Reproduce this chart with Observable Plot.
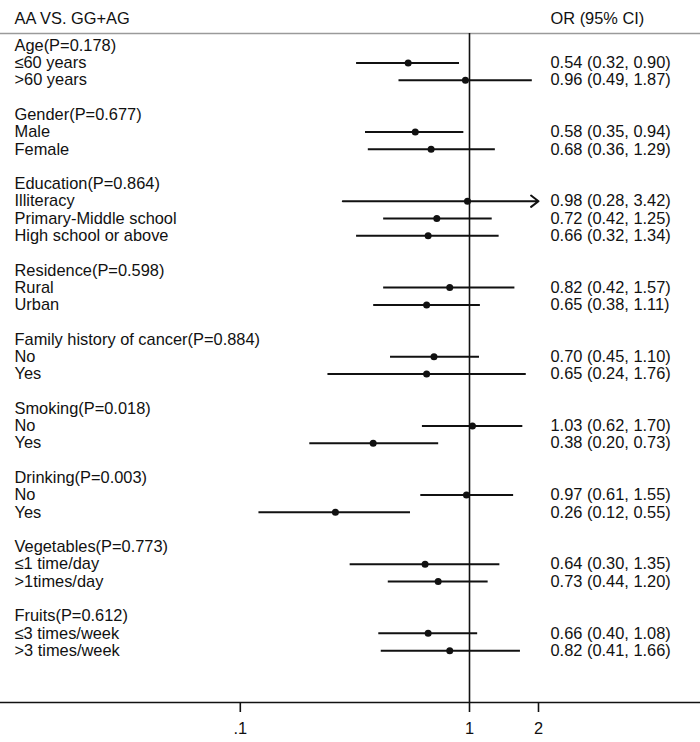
<!DOCTYPE html>
<html>
<head>
<meta charset="utf-8">
<script src="https://cdn.jsdelivr.net/npm/d3@7"></script>
<script src="https://cdn.jsdelivr.net/npm/@observablehq/plot@0.6"></script>
<style>
  html, body { margin: 0; padding: 0; background: #fff; }
  #chart svg { display: block; }
</style>
</head>
<body>
<div id="chart"></div>
<script>
// ---- data ----
const headerLeft = "AA VS. GG+AG";
const headerRight = "OR (95% CI)";
const groupNames = [
  "Age(P=0.178)", "Gender(P=0.677)", "Education(P=0.864)", "Residence(P=0.598)",
  "Family history of cancer(P=0.884)", "Smoking(P=0.018)", "Drinking(P=0.003)",
  "Vegetables(P=0.773)", "Fruits(P=0.612)"
];
const subgroupLabels = [
  ["≤60 years", ">60 years"],
  ["Male", "Female"],
  ["Illiteracy", "Primary-Middle school", "High school or above"],
  ["Rural", "Urban"],
  ["No", "Yes"],
  ["No", "Yes"],
  ["No", "Yes"],
  ["≤1 time/day", ">1times/day"],
  ["≤3 times/week", ">3 times/week"]
];
const orValues = [[0.54, 0.96], [0.58, 0.68], [0.98, 0.72, 0.66], [0.82, 0.65], [0.70, 0.65], [1.03, 0.38], [0.97, 0.26], [0.64, 0.73], [0.66, 0.82]];
const ciLower  = [[0.32, 0.49], [0.35, 0.36], [0.28, 0.42, 0.32], [0.42, 0.38], [0.45, 0.24], [0.62, 0.20], [0.61, 0.12], [0.30, 0.44], [0.40, 0.41]];
const ciUpper  = [[0.90, 1.87], [0.94, 1.29], [3.42, 1.25, 1.34], [1.57, 1.11], [1.10, 1.76], [1.70, 0.73], [1.55, 0.55], [1.35, 1.20], [1.08, 1.66]];
const xTicks = [0.1, 1, 2];
const xTickLabels = [".1", "1", "2"];
const xMax = 2; // CIs beyond the largest tick are clipped and drawn as arrows

// ---- build rows ----
const headerRows = [];
const rows = [];
let r = 0;
groupNames.forEach((g, gi) => {
  headerRows.push({row: r, label: g});
  r++;
  subgroupLabels[gi].forEach((s, si) => {
    rows.push({
      row: r, label: s,
      or: orValues[gi][si], lo: ciLower[gi][si], hi: ciUpper[gi][si],
      text: `${orValues[gi][si].toFixed(2)} (${ciLower[gi][si].toFixed(2)}, ${ciUpper[gi][si].toFixed(2)})`
    });
    r++;
  });
  r++; // blank spacer row
});
const clipped = rows.filter(d => d.hi > xMax);
const normal = rows.filter(d => d.hi <= xMax);

const yTop = -0.7, yBottom = 38;
const font = "'Liberation Sans', Arial, sans-serif";
const fs = 16.4;

const chart = Plot.plot({
  width: 700,
  height: 742,
  marginTop: 33,
  marginBottom: 40,
  marginLeft: 0,
  marginRight: 0,
  style: {fontFamily: font, fontSize: fs + "px", color: "#111", background: "#fff"},
  x: {type: "log", domain: [Math.pow(10, -469 / 229.2), Math.pow(10, 231 / 229.2)], range: [0, 700]},
  y: {domain: [yTop, yBottom], range: [33, 702], axis: null},
  marks: [
    // header rule and axis baseline
    Plot.ruleY([yTop], {stroke: "#9a9a9a", strokeWidth: 1.5}),
    Plot.ruleY([yBottom], {stroke: "#111", strokeWidth: 1.6}),
    // null line at OR = 1
    Plot.ruleX([1], {y1: yTop, y2: yBottom, stroke: "#111", strokeWidth: 1.6}),
    // confidence intervals
    Plot.link(normal, {x1: "lo", x2: "hi", y1: "row", y2: "row", stroke: "#111", strokeWidth: 2}),
    Plot.arrow(clipped, {x1: "lo", x2: () => xMax, y1: "row", y2: "row", stroke: "#111", strokeWidth: 2, headLength: 7, headAngle: 75}),
    // point estimates
    Plot.dot(rows, {x: "or", y: "row", r: 3.5, fill: "#111", stroke: null}),
    // left labels
    Plot.text(headerRows, {y: "row", text: "label", frameAnchor: "left", dx: 14, textAnchor: "start", fill: "#111", fontSize: fs}),
    Plot.text(rows, {y: "row", text: "label", frameAnchor: "left", dx: 14, textAnchor: "start", fill: "#111", fontSize: fs}),
    // right column
    Plot.text(rows, {y: "row", text: "text", frameAnchor: "left", dx: 550, textAnchor: "start", fill: "#111", fontSize: fs}),
    // headers
    Plot.text([headerLeft], {frameAnchor: "top-left", dx: 14, dy: -21, textAnchor: "start", fill: "#111", fontSize: fs}),
    Plot.text([headerRight], {frameAnchor: "top-left", dx: 550, dy: -21, textAnchor: "start", fill: "#111", fontSize: fs}),
    // x axis
    Plot.axisX({ticks: xTicks, tickFormat: (d) => xTickLabels[xTicks.indexOf(d)], tickSize: 10, tickPadding: 10, stroke: "#111", strokeWidth: 1.6, fontSize: fs, fill: "#111", label: null})
  ]
});
document.getElementById("chart").appendChild(chart);
</script>
</body>
</html>
